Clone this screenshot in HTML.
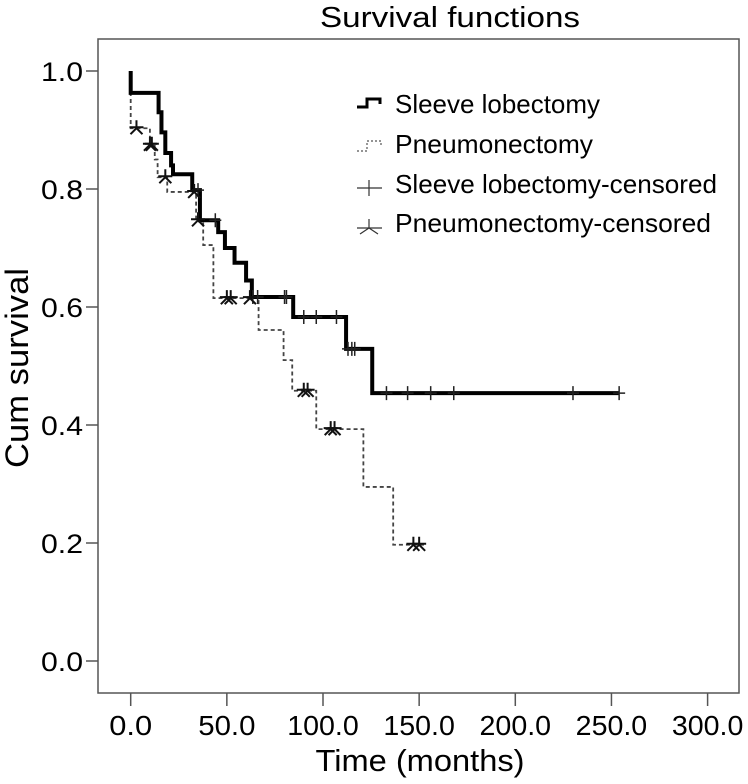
<!DOCTYPE html>
<html><head><meta charset="utf-8"><style>
html,body{margin:0;padding:0;background:#fff;}
svg{display:block;font-family:"Liberation Sans",Arial,sans-serif;}
</style></head><body>
<svg id="chart" width="748" height="784" viewBox="0 0 748 784" xmlns="http://www.w3.org/2000/svg">
<rect width="748" height="784" fill="#fff"/>
<text x="450" y="27" font-size="29" text-anchor="middle" textLength="260" lengthAdjust="spacingAndGlyphs">Survival functions</text>
<rect x="98" y="39" width="641" height="654" fill="none" stroke="#555" stroke-width="1.5"/>
<g id="axes"></g>
<g id="series"></g>
<text x="420" y="771" font-size="31" text-anchor="middle" textLength="209" lengthAdjust="spacingAndGlyphs">Time (months)</text>
<text transform="translate(28,368) rotate(-90)" font-size="32" text-anchor="middle" textLength="200" lengthAdjust="spacingAndGlyphs">Cum survival</text>
<g>
  <path d="M357,107 H367 V99 H380 V104" fill="none" stroke="#000" stroke-width="3"/>
  <text x="395" y="113" font-size="26" textLength="205" lengthAdjust="spacingAndGlyphs">Sleeve lobectomy</text>
  <path d="M357,151 H367 V141 H381 V147" fill="none" stroke="#555" stroke-width="1.2" stroke-dasharray="2,2"/>
  <text x="395" y="153" font-size="26" textLength="198" lengthAdjust="spacingAndGlyphs">Pneumonectomy</text>
  <path d="M357,188 H382 M369,180 V196" stroke="#333" stroke-width="1.2"/>
  <text x="395" y="193" font-size="26" textLength="322" lengthAdjust="spacingAndGlyphs">Sleeve lobectomy-censored</text>
  <path d="M357,228 H382 M369,219 V228 M369,228 L360,234 M369,228 L378,234" stroke="#333" stroke-width="1.2" fill="none"/>
  <text x="395" y="232" font-size="26" textLength="316" lengthAdjust="spacingAndGlyphs">Pneumonectomy-censored</text>
</g>
</svg>
<script>
const xTicks = [0, 50, 100, 150, 200, 250, 300];
const xTickLabels = ["0.0", "50.0", "100.0", "150.0", "200.0", "250.0", "300.0"];
const yTicks = [0, 0.2, 0.4, 0.6, 0.8, 1.0];
const yTickLabels = ["0.0", "0.2", "0.4", "0.6", "0.8", "1.0"];
const sleeveTimes = [0, 14.5, 16, 18, 21, 22, 32, 36, 45.5, 49, 54, 60, 63, 84.5, 112, 125.6];
const sleeveSurv = [0.963, 0.93, 0.896, 0.861, 0.84, 0.825, 0.798, 0.747, 0.727, 0.70, 0.675, 0.645, 0.617, 0.583, 0.529, 0.454];
const sleeveEnd = 254;
const sleeveCensored = [35, 44, 63.5, 66, 80, 81, 90, 96.5, 107, 113, 115, 116.5, 133, 144, 156, 168, 230, 254];
const pneumoTimes = [0, 10, 12.5, 14, 19, 34, 37.7, 43, 66.5, 79.5, 84, 96.5, 121, 136.5];
const pneumoSurv = [0.903, 0.875, 0.85, 0.82, 0.795, 0.747, 0.705, 0.615, 0.561, 0.51, 0.458, 0.393, 0.295, 0.197];
const pneumoEnd = 153;
const pneumoCensored = [3, 10, 11, 18, 33, 35, 50, 52, 62, 90, 92, 104, 106, 147, 150];

const NS = "http://www.w3.org/2000/svg";
function xs(t){ return 130.7 + t * 1.923; }
function ys(s){ return 661 - s * 590; }
function mk(tag, attrs, parent){ const e = document.createElementNS(NS, tag); for (const k in attrs) e.setAttribute(k, attrs[k]); parent.appendChild(e); return e; }
function stepAt(times, surv, t){ let s = 1; for (let i = 0; i < times.length; i++){ if (times[i] <= t) s = surv[i]; } return s; }

const axes = document.getElementById('axes');
xTicks.forEach((v, i) => {
  const l = mk('line', {x1: xs(v), x2: xs(v), y1: 693, y2: 706, stroke: '#555', 'stroke-width': 1.5}, axes);
  
  
  const t = mk('text', {x: xs(v), y: 735, 'font-size': 28, 'text-anchor': 'middle', textLength: xTickLabels[i].length * 14.3, lengthAdjust: 'spacingAndGlyphs'}, axes);
  t.textContent = xTickLabels[i];
  
  
});
yTicks.forEach((v, i) => {
  const l = mk('line', {x1: 86, x2: 98, y1: ys(v), y2: ys(v), stroke: '#555', 'stroke-width': 1.5}, axes);
  
  
  const t = mk('text', {x: 83, y: ys(v) + 10, 'font-size': 27, 'text-anchor': 'end', textLength: 42, lengthAdjust: 'spacingAndGlyphs'}, axes);
  t.textContent = yTickLabels[i];
  
  
});

function stepPath(times, surv, end){
  let d = 'M' + xs(0) + ',' + ys(1);
  for (let i = 0; i < times.length; i++){ d += ' H' + xs(times[i]) + ' V' + ys(surv[i]); }
  d += ' H' + xs(end);
  return d;
}
const series = document.getElementById('series');
const pp = mk('path', {d: stepPath(pneumoTimes, pneumoSurv, pneumoEnd), fill: 'none', stroke: '#444', 'stroke-width': 1.8, 'stroke-dasharray': '4,3'}, series);


const sp = mk('path', {d: stepPath(sleeveTimes, sleeveSurv, sleeveEnd), fill: 'none', stroke: '#000', 'stroke-width': 4}, series);



sleeveCensored.forEach(t => {
  const x = xs(t), y = ys(stepAt(sleeveTimes, sleeveSurv, t));
  const m = mk('path', {d: `M${x-6},${y} H${x+6} M${x},${y-7} V${y+7}`, stroke: '#222', 'stroke-width': 1.5}, series);
  
  
});
pneumoCensored.forEach(t => {
  const x = xs(t), y = ys(stepAt(pneumoTimes, pneumoSurv, t));
  const m = mk('path', {d: `M${x-7},${y-1} H${x+7} M${x},${y-8} V${y} L${x-6},${y+6} M${x},${y} L${x+6},${y+6}`, stroke: '#111', 'stroke-width': 2, fill: 'none'}, series);
  
  
});
</script>
</body></html>
